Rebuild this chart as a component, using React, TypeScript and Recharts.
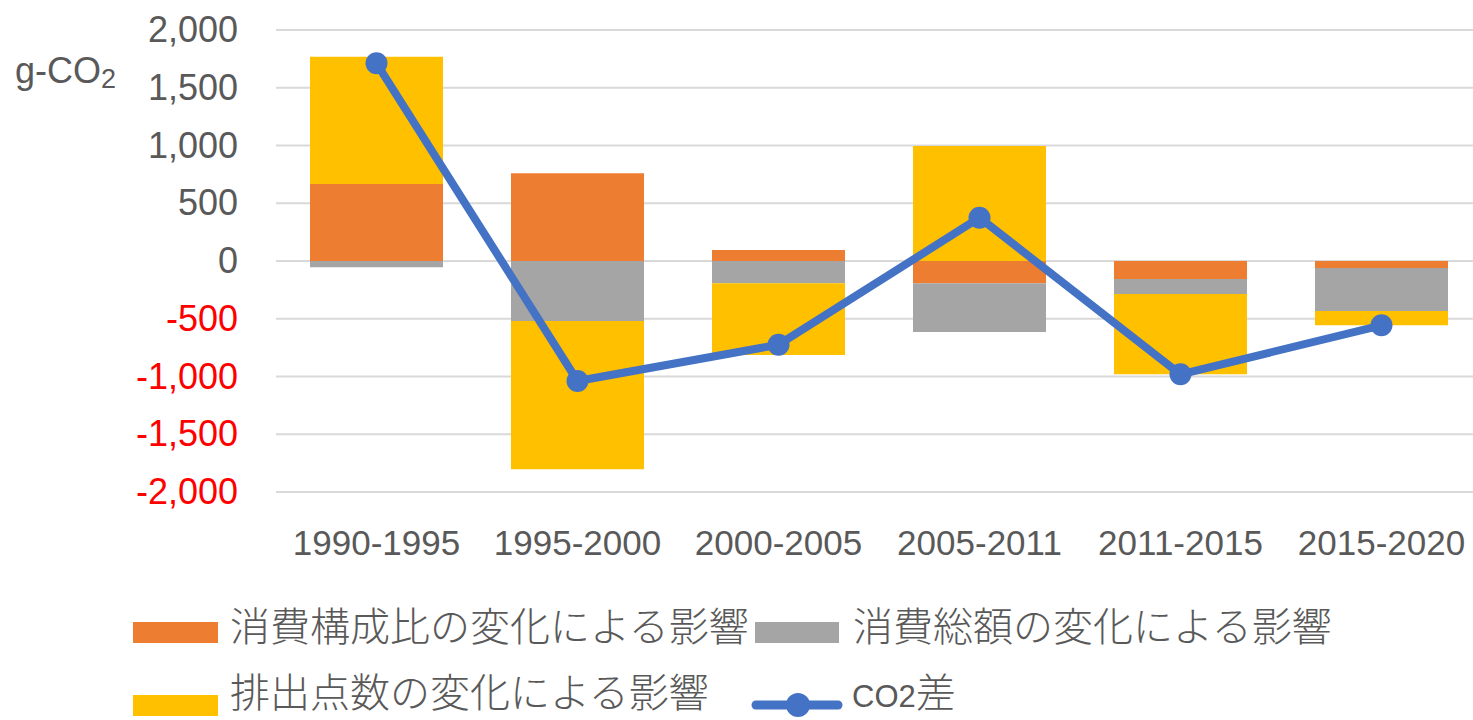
import React from 'react';
import { ComposedChart, Bar, Line, XAxis, YAxis, CartesianGrid, Legend } from 'recharts';

const categories = ['1990-1995', '1995-2000', '2000-2005', '2005-2011', '2011-2015', '2015-2020'];
const composition = [667, 759, 95, -193, -156, -60];
const totalSpend = [-55, -520, -193, -422, -130, -373];
const emissionCount = [1102, -1283, -621, 996, -695, -124];
const co2Diff = [1712, -1039, -725, 375, -981, -557];
const yTicks = [-2000, -1500, -1000, -500, 0, 500, 1000, 1500, 2000];

const seriesNames = {
  composition: '消費構成比の変化による影響',
  totalSpend: '消費総額の変化による影響',
  emissionCount: '排出点数の変化による影響',
  co2Diff: 'CO2差',
};

const colors = {
  composition: '#ED7D31',
  totalSpend: '#A5A5A5',
  emissionCount: '#FFC000',
  co2Diff: '#4472C4',
};

const data = categories.map((c, i) => ({
  name: c,
  composition: composition[i],
  totalSpend: totalSpend[i],
  emissionCount: emissionCount[i],
  co2Diff: co2Diff[i],
}));

const LATIN = '"Liberation Sans", Arial, sans-serif';
const CJK = '"Noto Sans CJK JP", "Noto Sans", sans-serif';
const TEXT = '#595959';

const YTick = (props: any) => {
  const { x, y, payload } = props;
  const v = payload.value as number;
  return (
    <text x={x} y={y} dy={12} textAnchor="end" fontFamily={LATIN} fontSize={36} fill={v < 0 ? '#FF0000' : TEXT}>
      {v.toLocaleString('en-US')}
    </text>
  );
};

const XTick = (props: any) => {
  const { x, y, payload } = props;
  return (
    <text x={x} y={y + 63} textAnchor="middle" fontFamily={LATIN} fontSize={35} fill={TEXT}>
      {payload.value}
    </text>
  );
};

const UnitLabel = () => (
  <text x={15} y={83} fontFamily={LATIN} fontSize={36} fill={TEXT}>
    g-CO
    <tspan fontSize={27} dy={5}>2</tspan>
  </text>
);

const LegendContent = () => (
  <svg width={1473} height={130} style={{ display: 'block' }}>
    <rect x={133} y={32} width={85} height={21} fill={colors.composition} />
    <text x={230} y={51} fontFamily={CJK} fontWeight={300} fontSize={40} fill={TEXT}>{seriesNames.composition}</text>
    <rect x={755} y={32} width={84} height={21} fill={colors.totalSpend} />
    <text x={853} y={51} fontFamily={CJK} fontWeight={300} fontSize={40} fill={TEXT}>{seriesNames.totalSpend}</text>
    <rect x={133} y={105} width={85} height={21} fill={colors.emissionCount} />
    <text x={230} y={117} fontFamily={CJK} fontWeight={300} fontSize={40} fill={TEXT}>{seriesNames.emissionCount}</text>
    <line x1={756} y1={115} x2={838} y2={115} stroke={colors.co2Diff} strokeWidth={9} strokeLinecap="round" />
    <circle cx={798} cy={115} r={12} fill={colors.co2Diff} />
    <text x={852} y={117} fill={TEXT}>
      <tspan fontFamily={LATIN} fontSize={31}>CO2</tspan>
      <tspan fontFamily={CJK} fontWeight={300} fontSize={40}>差</tspan>
    </text>
  </svg>
);

export default function App() {
  return (
    <div style={{ position: 'absolute', left: 0, top: 0, width: 1473, height: 720, overflow: 'hidden', background: '#fff' }}>
      <ComposedChart
        width={1482}
        height={720}
        data={data}
        stackOffset="sign"
        margin={{ top: 30, right: 0, bottom: 0, left: 0 }}
      >
        <CartesianGrid vertical={false} stroke="#D9D9D9" strokeWidth={2} />
        <XAxis
          dataKey="name"
          axisLine={false}
          tickLine={false}
          tickSize={0}
          tickMargin={0}
          height={98}
          tick={<XTick />}
          interval={0}
        />
        <YAxis
          domain={[-2000, 2000]}
          ticks={yTicks}
          axisLine={false}
          tickLine={false}
          tickSize={0}
          tickMargin={38}
          width={276}
          tick={<YTick />}
          interval={0}
          label={{ content: <UnitLabel /> }}
        />
        <Legend
          verticalAlign="bottom"
          content={<LegendContent />}
          wrapperStyle={{ left: 0, bottom: 0, width: 1473, height: 130 }}
        />
        <Bar dataKey="composition" name={seriesNames.composition} stackId="a" fill={colors.composition} barSize={133} isAnimationActive={false} />
        <Bar dataKey="totalSpend" name={seriesNames.totalSpend} stackId="a" fill={colors.totalSpend} barSize={133} isAnimationActive={false} />
        <Bar dataKey="emissionCount" name={seriesNames.emissionCount} stackId="a" fill={colors.emissionCount} barSize={133} isAnimationActive={false} />
        <Line
          dataKey="co2Diff"
          name={seriesNames.co2Diff}
          stroke={colors.co2Diff}
          strokeWidth={8}
          dot={{ r: 11, fill: colors.co2Diff, stroke: 'none' }}
          activeDot={false}
          isAnimationActive={false}
        />
      </ComposedChart>
    </div>
  );
}
